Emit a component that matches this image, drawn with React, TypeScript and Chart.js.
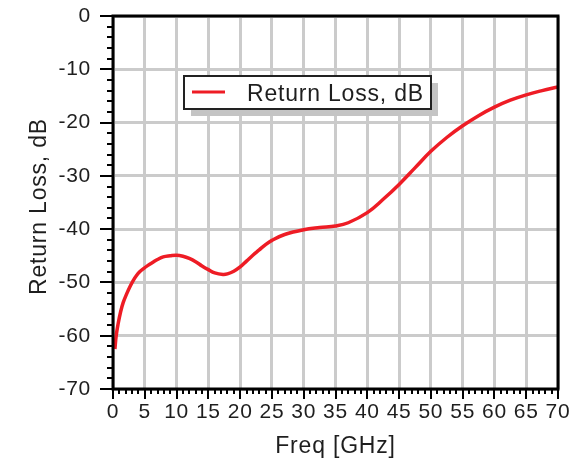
import React, { useEffect, useRef } from "react";
import { Chart, registerables } from "chart.js";

Chart.register(...registerables);

const freq = [0.3, 0.5, 0.8, 1.2, 1.6, 2.2, 2.7, 3.2, 3.7, 4.2, 4.8, 5.5, 6.3, 7, 7.9, 9, 10, 11, 12, 13, 14, 15, 16, 17.3, 18, 19, 20, 21, 22, 23, 24, 25, 27, 30, 32.5, 35, 37, 40, 42.5, 45, 47.5, 50, 52.5, 55, 57.5, 60, 62.5, 65, 67.5, 70];
const returnLoss = [-62.5, -60, -57.8, -55.5, -53.8, -52, -50.7, -49.6, -48.7, -48, -47.4, -46.8, -46.2, -45.7, -45.2, -45, -44.9, -45.1, -45.5, -46.1, -46.9, -47.6, -48.2, -48.5, -48.4, -47.9, -47.1, -46, -44.9, -43.9, -42.9, -42.1, -41, -40.1, -39.7, -39.4, -38.8, -36.9, -34.4, -31.6, -28.5, -25.4, -22.8, -20.6, -18.7, -17.1, -15.8, -14.8, -14, -13.3];

const seriesLabel = "Return Loss, dB";
const xTitle = "Freq [GHz]";
const yTitle = "Return Loss, dB";
const xMin = 0, xMax = 70, xMajor = 5, xMinor = 1;
const yMin = -70, yMax = 0, yMajor = 10, yMinor = 2;

const FONT = "'Liberation Sans', Arial, sans-serif";
const TEXT = "#1e1e1e";

const spacingPlugin = {
  id: "spacing",
  beforeLayout(chart: any) {
    chart.ctx.letterSpacing = "0.7px";
  },
  beforeDraw(chart: any) {
    chart.ctx.letterSpacing = "0.7px";
  },
};

const decorPlugin = {
  id: "decor",
  afterDraw(chart: any) {
    const ctx = chart.ctx;
    const { left, right, top, bottom } = chart.chartArea;
    const xs = chart.scales.x;
    const ys = chart.scales.y;
    ctx.save();
    // frame
    ctx.strokeStyle = "#000";
    ctx.lineWidth = 3;
    ctx.strokeRect(left, top, right - left, bottom - top);
    // x ticks
    ctx.lineWidth = 2;
    for (let v = xMin; v <= xMax + 1e-9; v += xMinor) {
      const px = Math.round(xs.getPixelForValue(v));
      const major = Math.abs(v / xMajor - Math.round(v / xMajor)) < 1e-6;
      ctx.beginPath();
      ctx.moveTo(px, bottom);
      ctx.lineTo(px, bottom + (major ? 10 : 5));
      ctx.stroke();
    }
    for (let v = yMin; v <= yMax + 1e-9; v += yMinor) {
      const py = Math.round(ys.getPixelForValue(v));
      const major = Math.abs(v / yMajor - Math.round(v / yMajor)) < 1e-6;
      ctx.beginPath();
      ctx.moveTo(left, py);
      ctx.lineTo(left - (major ? 13 : 6), py);
      ctx.stroke();
    }
    // axis titles
    ctx.fillStyle = TEXT;
    ctx.letterSpacing = "0.8px";
    ctx.font = `23px ${FONT}`;
    ctx.textAlign = "center";
    ctx.textBaseline = "alphabetic";
    ctx.fillText(xTitle, (left + right) / 2, 453);
    ctx.save();
    ctx.translate(46, (top + bottom) / 2 + 4);
    ctx.rotate(-Math.PI / 2);
    ctx.fillText(yTitle, 0, 0);
    ctx.restore();
    // legend
    const lx = left + 71, ly = top + 60, lw = 247, lh = 33;
    ctx.fillStyle = "#c4c4c4";
    ctx.fillRect(lx + 7, ly + 7, lw, lh);
    ctx.fillStyle = "#fff";
    ctx.fillRect(lx, ly, lw, lh);
    ctx.strokeStyle = "#222";
    ctx.lineWidth = 2;
    ctx.strokeRect(lx, ly, lw, lh);
    ctx.strokeStyle = "#ee1c25";
    ctx.lineWidth = 3;
    ctx.beginPath();
    ctx.moveTo(lx + 8, ly + 16);
    ctx.lineTo(lx + 41, ly + 16);
    ctx.stroke();
    ctx.fillStyle = TEXT;
    ctx.textAlign = "left";
    ctx.textBaseline = "alphabetic";
    ctx.fillText(chart.data.datasets[0].label, lx + 63, ly + 25);
    ctx.restore();
  },
};

export default function App() {
  const ref = useRef<HTMLCanvasElement>(null);
  useEffect(() => {
    document.body.style.margin = "0";
    const chart = new Chart(ref.current!, {
      type: "line",
      data: {
        datasets: [
          {
            label: seriesLabel,
            data: freq.map((f, i) => ({ x: f, y: returnLoss[i] })),
            borderColor: "#ee1c25",
            borderWidth: 3.5,
            pointRadius: 0,
            tension: 0.4,
            fill: false,
          },
        ],
      },
      plugins: [spacingPlugin, decorPlugin],
      options: {
        responsive: false,
        animation: false,
        layout: { padding: { top: 16, right: 27, left: 0, bottom: 0 } },
        plugins: { legend: { display: false }, tooltip: { enabled: false } },
        scales: {
          x: {
            type: "linear",
            min: xMin,
            max: xMax,
            afterFit: (s: any) => { s.height = 69; s.paddingLeft = 0; s.paddingRight = 0; },
            ticks: { stepSize: xMajor, autoSkip: false, maxRotation: 0, color: TEXT, font: { family: FONT, size: 21 }, padding: 11 },
            grid: { color: "#cbcbcb", lineWidth: 3, drawTicks: false },
            border: { display: false },
          },
          y: {
            type: "linear",
            min: yMin,
            max: yMax,
            afterFit: (s: any) => { s.width = 113; s.paddingTop = 0; s.paddingBottom = 0; },
            ticks: { stepSize: yMajor, color: TEXT, font: { family: FONT, size: 21 }, padding: 22 },
            grid: { color: "#cbcbcb", lineWidth: 3, drawTicks: false },
            border: { display: false },
          },
        },
      },
    });
    return () => chart.destroy();
  }, []);
  return (
    <div style={{ position: "absolute", left: 0, top: 0, width: 585, height: 458, background: "#fff" }}>
      <canvas ref={ref} width={585} height={458} />
    </div>
  );
}
